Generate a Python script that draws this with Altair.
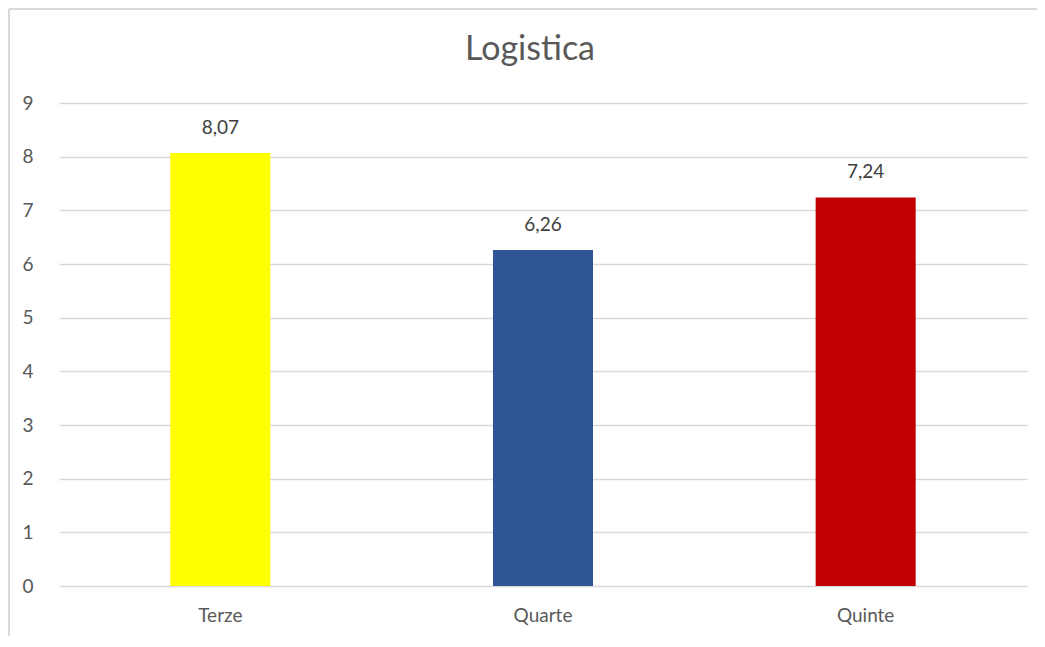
import altair as alt
import pandas as pd

categories = ["Terze", "Quarte", "Quinte"]
values = [8.07, 6.26, 7.24]
colors = ["#FFFF00", "#2F5597", "#C00000"]

df = pd.DataFrame({
    "classe": categories,
    "valore": values,
    "colore": colors,
    "etichetta": [f"{v:.2f}".replace(".", ",") for v in values],
})

FONT = "Lato"
GREY = "#595959"

x = alt.X("classe:N", sort=categories, title=None,
          scale=alt.Scale(paddingInner=0.69, paddingOuter=0.345),
          axis=alt.Axis(labelAngle=0, labelFont=FONT, labelFontSize=19, labelColor=GREY,
                        labelPadding=20, ticks=False, domain=False, grid=False))
y = alt.Y("valore:Q", title=None,
          scale=alt.Scale(domain=[0, 9], nice=False),
          axis=alt.Axis(values=list(range(10)), format="d", labelFont=FONT, labelFontSize=19,
                        labelColor=GREY, labelPadding=26, ticks=False, domain=False, grid=True,
                        gridColor="#D9D9D9", gridWidth=1.3))

border = alt.Chart(df).mark_rule(stroke="#D9D9D9", strokeWidth=2).encode(
    x=alt.value(-50), x2=alt.value(990), y=alt.value(-94)
)
border_left = alt.Chart(df).mark_rule(stroke="#D9D9D9", strokeWidth=2).encode(
    x=alt.value(-50), y=alt.value(-94), y2=alt.value(600)
)

bars = alt.Chart(df).mark_bar().encode(
    x=x, y=y, color=alt.Color("colore:N", scale=None)
)

labels = alt.Chart(df).mark_text(font=FONT, fontSize=19, color="#404040", dy=-19,
                                  baseline="alphabetic").encode(
    x=alt.X("classe:N", sort=categories),
    y="valore:Q",
    text="etichetta:N",
)

chart = alt.layer(border, border_left, bars, labels).properties(
    width=968, height=483,
    background="white",
    autosize=alt.AutoSizeParams(type="none"),
    padding={"left": 51, "top": 95, "right": 10, "bottom": 50},
    title=alt.TitleParams("Logistica", font=FONT, fontSize=34, fontWeight="normal",
                          color=GREY, anchor="middle", frame="group", baseline="alphabetic",
                          offset=0, dy=86, dx=-13),
).configure_view(stroke=None)

chart.save("out.html", embed_options={"renderer": "svg", "actions": False})
